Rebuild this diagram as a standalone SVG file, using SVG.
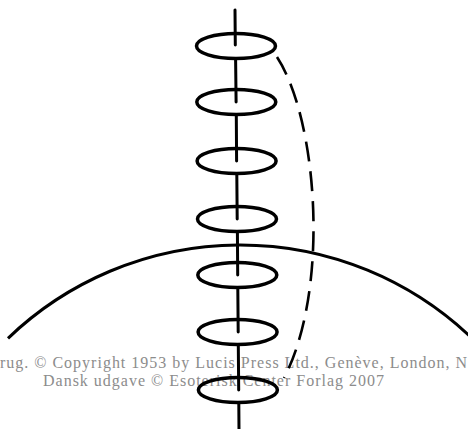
<svg xmlns="http://www.w3.org/2000/svg" width="468" height="429" viewBox="0 0 468 429">
<style>
.t{font-family:"Liberation Serif","Times New Roman",serif;font-size:16px;fill:#8c8c8c}
.ring{fill:none;stroke:#000;stroke-width:3.5}
.axis{fill:none;stroke:#000;stroke-width:3;stroke-linecap:round}
</style>
<rect width="468" height="429" fill="#fff"/>
<g id="credits">
<text class="t" x="0" y="368" textLength="467" lengthAdjust="spacing">rug. © Copyright 1953 by Lucis Press Ltd., Genève, London, N</text>
<text class="t" x="43" y="386" textLength="341" lengthAdjust="spacing">Dansk udgave © Esoterisk Center Forlag 2007</text>
</g>
<g id="horizon">
<path d="M 8 338.3 A 335 335 0 0 1 470 336.4" fill="none" stroke="#000" stroke-width="3"/>
</g>
<g id="connectors">
<path class="axis" d="M235 10 L235.3 45 M235.6 58.5 L236.1 102 M236.3 114.5 L236.6 161 M236.8 173.5 L237.2 219 M237.4 231.5 L237.7 275 M237.8 287.5 L238.2 332 M238.3 344.5 L238.7 390 M238.8 402.5 L239 429"/>
<path d="M277 57 C318 120 330 290 284 378" fill="none" stroke="#000" stroke-width="2.6" stroke-dasharray="20 10"/>
</g>
<g id="ring1"><ellipse class="ring" cx="236" cy="46" rx="39.5" ry="12.5"/></g>
<g id="ring2"><ellipse class="ring" cx="236.3" cy="102" rx="39.5" ry="12.5"/></g>
<g id="ring3"><ellipse class="ring" cx="236.6" cy="161" rx="39.5" ry="12.5"/></g>
<g id="ring4"><ellipse class="ring" cx="237" cy="219" rx="39.5" ry="12.5"/></g>
<g id="ring5"><ellipse class="ring" cx="237.3" cy="275" rx="39.5" ry="12.5"/></g>
<g id="ring6"><ellipse class="ring" cx="237.6" cy="332" rx="39.5" ry="12.5"/></g>
<g id="ring7"><ellipse class="ring" cx="237.9" cy="390" rx="39.5" ry="12.5"/></g>
</svg>
